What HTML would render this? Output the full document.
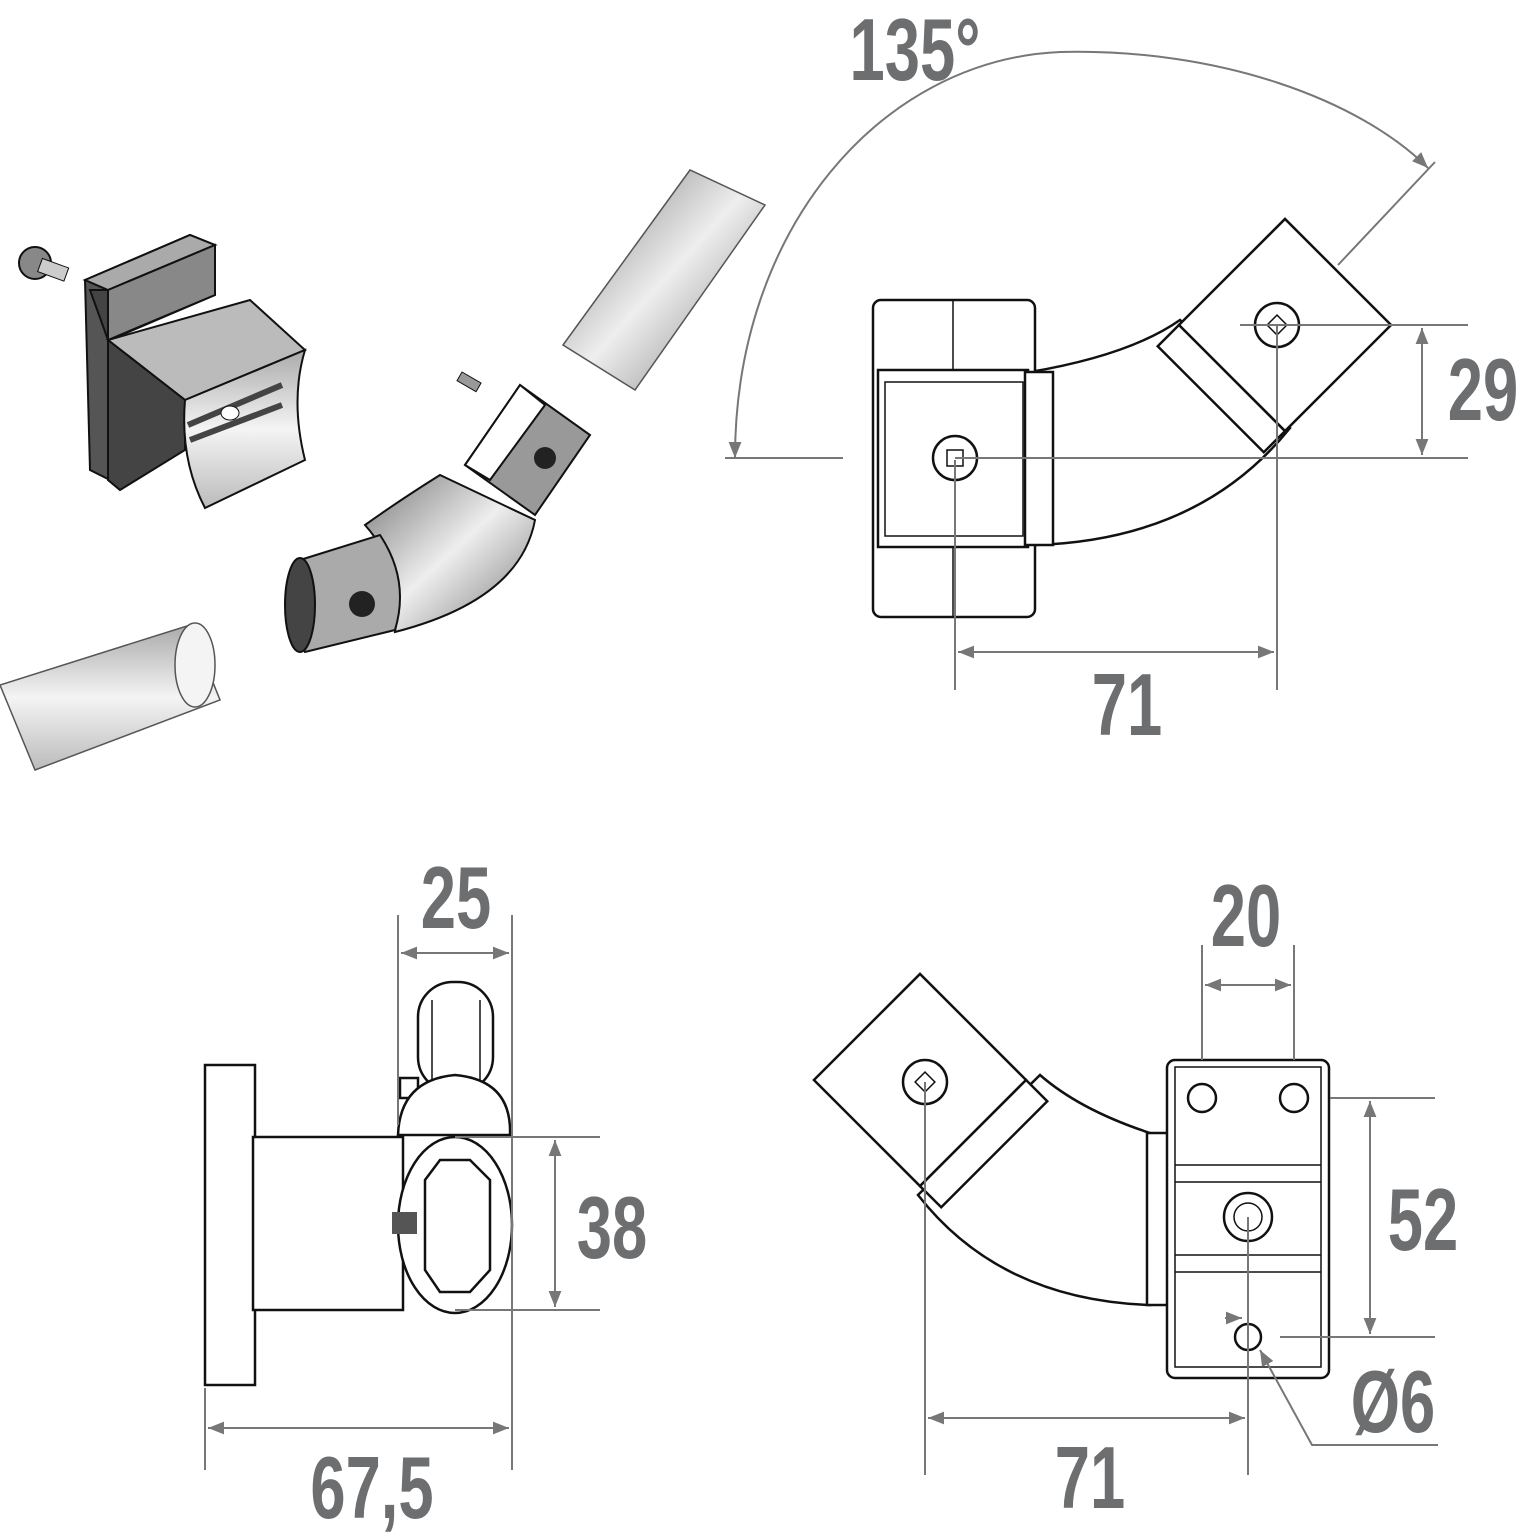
<!DOCTYPE html>
<html><head><meta charset="utf-8"><style>
html,body{margin:0;padding:0;background:#fff;}
svg{display:block;}
.t{font-family:"Liberation Sans",sans-serif;font-weight:bold;fill:#6d6e70;}
.d{stroke:#777;stroke-width:2;fill:none;}
.o{stroke:#111;stroke-width:2.5;fill:#fff;}
.l{stroke:#111;stroke-width:1.5;fill:none;}
</style></head><body>
<svg width="1523" height="1537" viewBox="0 0 1523 1537" xmlns="http://www.w3.org/2000/svg">
<defs>
<marker id="a" viewBox="0 0 10 10" refX="10" refY="5" markerWidth="8" markerHeight="8" orient="auto-start-reverse"><path d="M0,1 L10,5 L0,9 z" fill="#777"/></marker>
<linearGradient id="g1" x1="0" y1="0" x2="1" y2="1"><stop offset="0" stop-color="#777"/><stop offset=".5" stop-color="#eee"/><stop offset="1" stop-color="#777"/></linearGradient>
<linearGradient id="g2" x1="0" y1="0" x2="0" y2="1"><stop offset="0" stop-color="#aaa"/><stop offset=".5" stop-color="#f4f4f4"/><stop offset="1" stop-color="#bbb"/></linearGradient>
</defs>

<!-- 3D view -->
<circle cx="35" cy="263" r="16" fill="#888" stroke="#111" stroke-width="2"/>
<rect x="40" y="258" width="28" height="14" fill="#ccc" stroke="#111" transform="rotate(20 40 265)"/>
<polygon points="85,280 190,235 215,245 215,295 110,340 110,480 90,470" fill="#555" stroke="#111" stroke-width="2"/>
<polygon points="85,280 190,235 215,245 108,290" fill="#aaa" stroke="#111" stroke-width="2"/>
<polygon points="108,290 215,245 215,295 108,340" fill="#888" stroke="#111" stroke-width="2"/>
<polygon points="108,340 250,300 305,350 185,400" fill="#bbb" stroke="#111" stroke-width="2"/>
<polygon points="90,290 108,290 108,480 120,490 185,450 185,400 108,340" fill="#444" stroke="#111" stroke-width="2"/>
<path d="M185,400 L305,350 Q290,400 305,460 L205,508 Q180,460 185,400 Z" fill="url(#g2)" stroke="#111" stroke-width="2"/>
<line x1="188" y1="425" x2="282" y2="385" stroke="#444" stroke-width="6"/>
<line x1="190" y1="440" x2="282" y2="405" stroke="#444" stroke-width="6"/>
<ellipse cx="230" cy="413" rx="9" ry="7" fill="#fff" stroke="#111"/>
<polygon points="563,345 690,170 765,205 635,390" fill="url(#g1)" stroke="#555" stroke-width="1.5"/>
<polygon points="0,685 190,625 220,700 35,770" fill="url(#g2)" stroke="#555" stroke-width="1.5"/>
<ellipse cx="195" cy="665" rx="20" ry="42" fill="#f4f4f4" stroke="#555" stroke-width="1.5"/>
<rect x="462" y="372" width="22" height="10" fill="#999" stroke="#111" transform="rotate(30 462 372)"/>
<polygon points="465,465 520,385 590,435 535,515" fill="#999" stroke="#111" stroke-width="2"/>
<polygon points="465,465 520,385 545,405 490,480" fill="#fff" stroke="#111" stroke-width="2"/>
<circle cx="545" cy="458" r="11" fill="#222"/>
<path d="M440,475 L535,520 Q520,600 395,632 Q405,570 365,525 Q400,500 440,475 Z" fill="url(#g1)" stroke="#111" stroke-width="2"/>
<path d="M300,560 L380,535 Q410,580 395,630 L305,652 Q280,605 300,560 Z" fill="#aaa" stroke="#111" stroke-width="2"/>
<ellipse cx="300" cy="605" rx="15" ry="47" fill="#444" stroke="#111" stroke-width="2"/>
<circle cx="362" cy="604" r="13" fill="#222"/>

<!-- Top right view -->
<path d="M735,458 C735,230 880,60 1060,52 C1220,48 1360,100 1428,168" class="d" marker-start="url(#a)" marker-end="url(#a)"/>
<line x1="725" y1="458" x2="843" y2="458" class="d"/>
<line x1="1338" y1="265" x2="1435" y2="162" class="d"/>
<path d="M1030,372 Q1130,355 1180,320 L1290,428 Q1200,540 1035,545 Z" class="o"/>
<rect x="873" y="300" width="162" height="317" rx="8" class="o"/>
<line x1="953" y1="300" x2="953" y2="617" class="l"/>
<rect x="878" y="370" width="150" height="177" class="o"/>
<rect x="885" y="382" width="138" height="154" class="l"/>
<rect x="1025" y="372" width="28" height="173" class="o"/>
<g transform="rotate(-45 1285 325)">
<rect x="1210" y="250" width="150" height="150" class="o"/>
<rect x="1180" y="250" width="30" height="150" class="o"/>
</g>
<circle cx="955" cy="458" r="22" class="o"/><rect x="947" y="450" width="16" height="16" class="l"/>
<circle cx="1277" cy="325" r="22" class="o"/><rect x="1270" y="318" width="14" height="14" class="l" transform="rotate(45 1277 325)"/>
<line x1="955" y1="458" x2="1468" y2="458" class="d"/>
<line x1="1240" y1="325" x2="1468" y2="325" class="d"/>
<line x1="1422" y1="328" x2="1422" y2="455" class="d" marker-start="url(#a)" marker-end="url(#a)"/>
<line x1="955" y1="460" x2="955" y2="690" class="d"/>
<line x1="1277" y1="325" x2="1277" y2="690" class="d"/>
<line x1="958" y1="652" x2="1274" y2="652" class="d" marker-start="url(#a)" marker-end="url(#a)"/>

<!-- Bottom left view -->
<rect x="205" y="1065" width="50" height="320" class="o"/>
<rect x="253" y="1137" width="150" height="173" class="o"/>
<rect x="418" y="982" width="75" height="110" rx="35" class="o"/>
<line x1="432" y1="1000" x2="432" y2="1090" class="l"/><line x1="480" y1="1000" x2="480" y2="1090" class="l"/>
<rect x="400" y="1078" width="18" height="20" class="o"/>
<path d="M398,1135 Q400,1080 455,1075 Q512,1080 510,1135 Z" class="o"/>
<ellipse cx="455" cy="1225" rx="57" ry="88" class="o"/>
<path d="M425,1180 L440,1160 L470,1160 L490,1180 L490,1270 L470,1292 L440,1292 L425,1270 Z" class="o" stroke-width="4"/>
<rect x="392" y="1212" width="25" height="22" fill="#555"/>
<line x1="398" y1="915" x2="398" y2="1125" class="d"/>
<line x1="512" y1="915" x2="512" y2="1470" class="d"/>
<line x1="401" y1="953" x2="509" y2="953" class="d" marker-start="url(#a)" marker-end="url(#a)"/>
<line x1="455" y1="1137" x2="600" y2="1137" class="d"/>
<line x1="455" y1="1310" x2="600" y2="1310" class="d"/>
<line x1="555" y1="1140" x2="555" y2="1307" class="d" marker-start="url(#a)" marker-end="url(#a)"/>
<line x1="205" y1="1388" x2="205" y2="1470" class="d"/>
<line x1="208" y1="1428" x2="509" y2="1428" class="d" marker-start="url(#a)" marker-end="url(#a)"/>

<!-- Bottom right view -->
<path d="M1150,1133 Q1080,1110 1040,1075 L918,1195 Q1000,1300 1150,1305 Z" class="o"/>
<rect x="1147" y="1133" width="22" height="172" class="o"/>
<rect x="1167" y="1060" width="162" height="318" rx="8" class="o"/>
<rect x="1175" y="1067" width="146" height="300" class="l"/>
<line x1="1175" y1="1165" x2="1321" y2="1165" class="l"/><line x1="1175" y1="1182" x2="1321" y2="1182" class="l"/>
<line x1="1175" y1="1255" x2="1321" y2="1255" class="l"/><line x1="1175" y1="1272" x2="1321" y2="1272" class="l"/>
<circle cx="1202" cy="1098" r="14" class="o"/><circle cx="1294" cy="1098" r="14" class="o"/>
<circle cx="1248" cy="1217" r="24" class="o"/><circle cx="1248" cy="1217" r="14" class="l"/>
<circle cx="1248" cy="1337" r="13" class="o"/>
<g transform="rotate(45 920 1080)">
<rect x="845" y="1005" width="150" height="150" class="o"/>
<rect x="995" y="1005" width="30" height="150" class="o"/>
</g>
<circle cx="925" cy="1082" r="22" class="o"/><rect x="918" y="1075" width="14" height="14" class="l" transform="rotate(45 925 1082)"/>
<line x1="1202" y1="945" x2="1202" y2="1060" class="d"/>
<line x1="1294" y1="945" x2="1294" y2="1060" class="d"/>
<line x1="1205" y1="985" x2="1291" y2="985" class="d" marker-start="url(#a)" marker-end="url(#a)"/>
<line x1="1330" y1="1098" x2="1435" y2="1098" class="d"/>
<line x1="1280" y1="1337" x2="1435" y2="1337" class="d"/>
<line x1="1370" y1="1101" x2="1370" y2="1334" class="d" marker-start="url(#a)" marker-end="url(#a)"/>
<line x1="925" y1="1082" x2="925" y2="1475" class="d"/>
<line x1="1248" y1="1217" x2="1248" y2="1475" class="d"/>
<line x1="928" y1="1418" x2="1245" y2="1418" class="d" marker-start="url(#a)" marker-end="url(#a)"/>
<polyline points="1438,1445 1312,1445 1260,1350" class="d" marker-end="url(#a)"/>
<line x1="1225" y1="1318" x2="1242" y2="1318" class="d" marker-end="url(#a)"/>

<!-- Labels -->
<g class="t" font-size="88">
<text x="915" y="80" text-anchor="middle" transform="translate(915 0) scale(0.72 1) translate(-915 0)">135°</text>
<text x="1483" y="420" text-anchor="middle" transform="translate(1483 0) scale(0.72 1) translate(-1483 0)">29</text>
<text x="1127" y="735" text-anchor="middle" transform="translate(1127 0) scale(0.72 1) translate(-1127 0)">71</text>
<text x="456" y="928" text-anchor="middle" transform="translate(456 0) scale(0.72 1) translate(-456 0)">25</text>
<text x="612" y="1258" text-anchor="middle" transform="translate(612 0) scale(0.72 1) translate(-612 0)">38</text>
<text x="372" y="1518" text-anchor="middle" transform="translate(372 0) scale(0.72 1) translate(-372 0)">67,5</text>
<text x="1246" y="946" text-anchor="middle" transform="translate(1246 0) scale(0.72 1) translate(-1246 0)">20</text>
<text x="1423" y="1250" text-anchor="middle" transform="translate(1423 0) scale(0.72 1) translate(-1423 0)">52</text>
<text x="1393" y="1432" text-anchor="middle" transform="translate(1393 0) scale(0.72 1) translate(-1393 0)">Ø6</text>
<text x="1090" y="1508" text-anchor="middle" transform="translate(1090 0) scale(0.72 1) translate(-1090 0)">71</text>
</g>
</svg>
</body></html>
